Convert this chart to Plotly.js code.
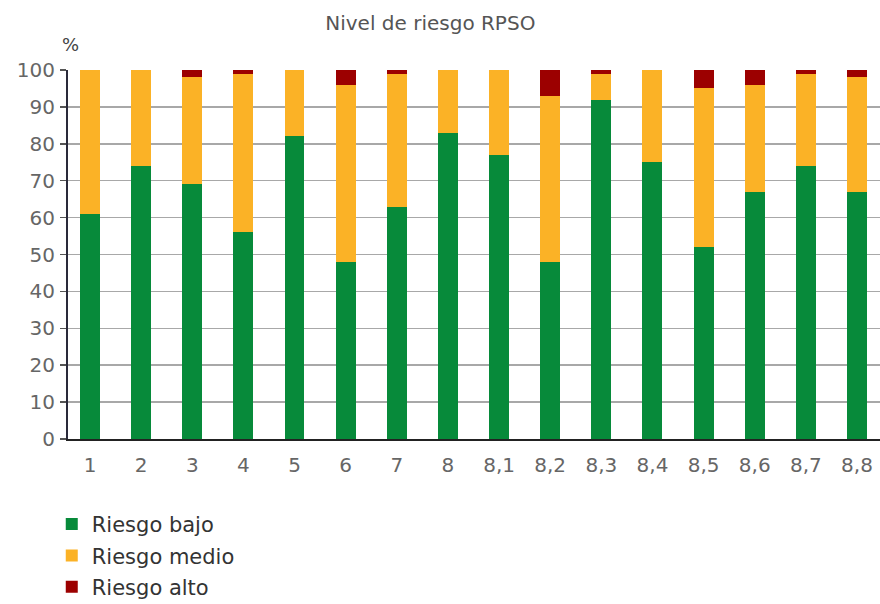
<!DOCTYPE html>
<html>
<head>
<meta charset="utf-8">
<script src="https://cdn.plot.ly/plotly-3.0.1.min.js"></script>
<style>html,body{margin:0;padding:0;background:#fff;}#chart{width:880px;height:604px;}</style>
</head>
<body>
<div id="chart"></div>
<script>
const categories = ["1","2","3","4","5","6","7","8","8,1","8,2","8,3","8,4","8,5","8,6","8,7","8,8"];
const riesgoBajo  = [61, 74, 69, 56, 82, 48, 63, 83, 77, 48, 92, 75, 52, 67, 74, 67];
const riesgoMedio = [39, 26, 29, 43, 18, 48, 36, 17, 23, 45,  7, 25, 43, 29, 25, 31];
const riesgoAlto  = [ 0,  0,  2,  1,  0,  4,  1,  0,  0,  7,  1,  0,  5,  4,  1,  2];
const seriesNames = ["Riesgo bajo", "Riesgo medio", "Riesgo alto"];
const yTicks = [0,10,20,30,40,50,60,70,80,90,100];

const barColors = ["#078a3a", "#fbb226", "#9c0000"];
const data = [riesgoBajo, riesgoMedio, riesgoAlto].map((vals, k) => ({
  type: "bar",
  x: categories,
  y: vals,
  name: seriesNames[k],
  legendgroup: "g" + k,
  width: 0.39,
  marker: {color: barColors[k], line: {width: 0}},
  hoverinfo: "x+y+name"
}));

const layout = {
  width: 880, height: 604,
  margin: {l: 68, r: 0, t: 70, b: 165, autoexpand: false},
  paper_bgcolor: "#fff", plot_bgcolor: "#fff",
  barmode: "stack",
  font: {family: "DejaVu Sans, Verdana, sans-serif", color: "#666"},
  title: {text: "Nivel de riesgo RPSO", font: {size: 20, color: "#555"},
          x: 0.489, xanchor: "center", y: 0.962, yanchor: "middle"},
  xaxis: {
    type: "category",
    range: [-0.43, 15.45],
    showgrid: false,
    showline: true, linecolor: "#222", linewidth: 2,
    ticks: "", tickfont: {size: 20, color: "#666"},
    ticklabelstandoff: 7,
    fixedrange: true
  },
  yaxis: {
    range: [0, 100],
    tickvals: yTicks,
    ticktext: yTicks.map(String),
    showgrid: true, gridcolor: "#a8a8a8", gridwidth: 1.5,
    showline: true, linecolor: "#2a2a3a", linewidth: 2,
    ticks: "outside", ticklen: 6, tickcolor: "#555", tickwidth: 1.5,
    tickfont: {size: 20, color: "#666"},
    ticklabelstandoff: 1,
    zeroline: false,
    fixedrange: true
  },
  showlegend: true,
  legend: {
    orientation: "v",
    x: -0.02, xanchor: "left",
    y: -0.176, yanchor: "top",
    traceorder: "grouped",
    tracegroupgap: 1,
    font: {size: 21, color: "#333"},
    bgcolor: "rgba(0,0,0,0)"
  },
  annotations: [{
    text: "%", xref: "paper", yref: "paper", x: 0.003, y: 1.068,
    xanchor: "center", yanchor: "middle", showarrow: false,
    font: {size: 18, color: "#444"}
  }]
};

Plotly.newPlot("chart", data, layout, {displayModeBar: false, staticPlot: true});
</script>
</body>
</html>
